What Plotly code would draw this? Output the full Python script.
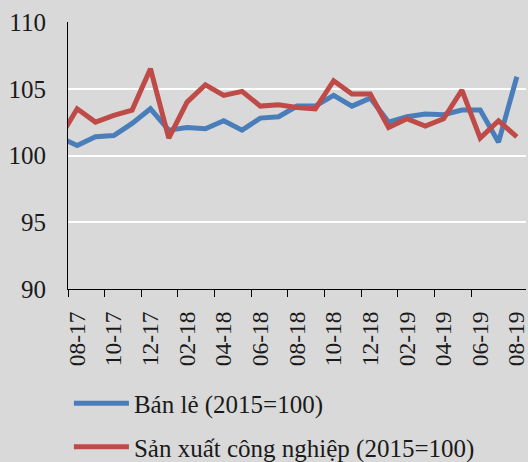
import plotly.graph_objects as go

months = ["07-17", "08-17", "09-17", "10-17", "11-17", "12-17", "01-18", "02-18", "03-18",
          "04-18", "05-18", "06-18", "07-18", "08-18", "09-18", "10-18", "11-18", "12-18",
          "01-19", "02-19", "03-19", "04-19", "05-19", "06-19", "07-19", "08-19"]
retail = [101.4, 100.75, 101.4, 101.5, 102.4, 103.5, 101.9, 102.1, 102.0, 102.6, 101.9,
          102.8, 102.9, 103.7, 103.7, 104.5, 103.7, 104.3, 102.5, 102.9, 103.1, 103.05,
          103.4, 103.4, 101.0, 105.9]
industry = [101.2, 103.5, 102.5, 103.0, 103.4, 106.5, 101.3, 104.0, 105.3, 104.5, 104.8,
            103.7, 103.8, 103.6, 103.5, 105.6, 104.6, 104.6, 102.1, 102.75, 102.2, 102.75,
            104.9, 101.3, 102.6, 101.4]
series_names = ["Bán lẻ (2015=100)", "Sản xuất công nghiệp (2015=100)"]
colors = ["#4a7ebb", "#be4b48"]
y_ticks = [90, 95, 100, 105, 110]

# first listed month lies just before the visible axis range
xpos = [i - 1 for i in range(len(months))]
label_pos = xpos[1::2]
label_text = months[1::2]
boundaries = [p - 0.5 for p in label_pos[:-1]]

font_family = "Liberation Serif"
fig = go.Figure()
for i, (name, vals) in enumerate(zip(series_names, [retail, industry])):
    fig.add_trace(go.Scatter(
        x=xpos, y=vals, mode="lines", name=name,
        line=dict(color=colors[i], width=5),
        legendgroup=f"g{i}",
    ))

fig.update_layout(
    width=528, height=462,
    margin=dict(l=68, r=2, t=22, b=173, autoexpand=False),
    paper_bgcolor="#d9d9d9", plot_bgcolor="#d9d9d9",
    font=dict(family=font_family, size=24, color="#1a1a1a"),
    showlegend=True,
    legend=dict(
        x=0.002, y=-0.343, xanchor="left", yanchor="top",
        bgcolor="rgba(0,0,0,0)", traceorder="grouped", tracegroupgap=8,
        itemwidth=55, font=dict(family=font_family, size=25, color="#1a1a1a"),
    ),
    xaxis=dict(
        range=[-0.5, 24.5], tickmode="array", tickvals=label_pos, ticktext=label_text,
        tickangle=-90, ticks="", showgrid=False, zeroline=False,
        showline=True, linecolor="#000000", linewidth=1.2,
        ticklabelstandoff=12, ticklabeloverflow="allow", tickfont=dict(size=23.5),
        minor=dict(tickmode="array", tickvals=boundaries, ticks="outside",
                   ticklen=7, tickcolor="#000000", tickwidth=1.2, showgrid=False),
    ),
    yaxis=dict(
        range=[90, 110], tickmode="array", tickvals=y_ticks, ticks="",
        showgrid=True, gridcolor="#ffffff", gridwidth=1.5, zeroline=False,
        showline=True, linecolor="#000000", linewidth=1.2,
        ticklabelstandoff=16, tickfont=dict(size=25),
    ),
)

fig.write_html("out.html", config={"displayModeBar": False},
               post_script="document.body.style.margin='0';")
